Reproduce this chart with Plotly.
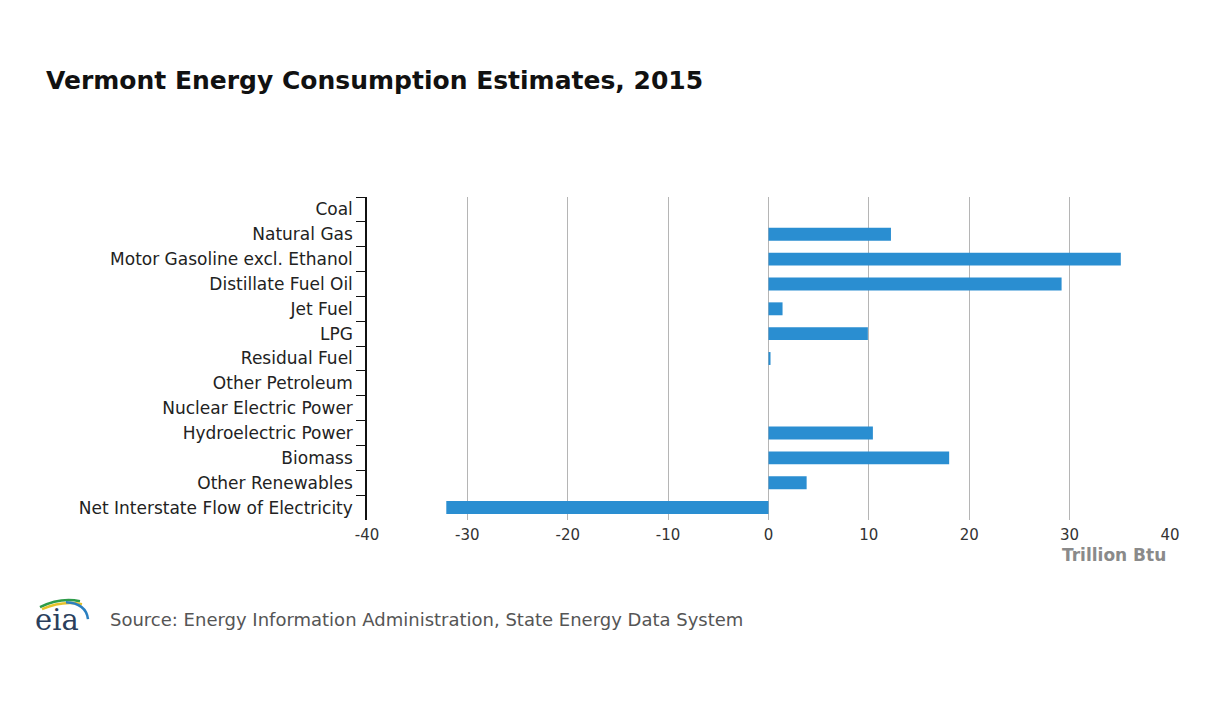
import plotly.graph_objects as go

categories = ["Coal", "Natural Gas", "Motor Gasoline excl. Ethanol", "Distillate Fuel Oil",
              "Jet Fuel", "LPG", "Residual Fuel", "Other Petroleum", "Nuclear Electric Power",
              "Hydroelectric Power", "Biomass", "Other Renewables", "Net Interstate Flow of Electricity"]
values = [0.0, 12.2, 35.1, 29.2, 1.4, 9.9, 0.2, 0.0, 0.0, 10.4, 18.0, 3.8, -32.1]
x_ticks = [-40, -30, -20, -10, 0, 10, 20, 30, 40]

W, H = 1220, 704
OFF = 8  # page body margin offset
# desired on-screen plot area edges
PL, PR, PT, PB = 367, 1171, 196.5, 520.5
L = PL - OFF
R = W - (PR - OFF)
T = PT - OFF
B = H - (PB - OFF)

def px(xs):
    return (xs - PL) / (PR - PL)

def py(ys):
    return (PB - ys) / (PB - PT)

fig = go.Figure(go.Bar(
    x=values, y=categories, orientation="h",
    marker=dict(color="#2a8ed1", line=dict(width=0)),
    hoverinfo="x+y",
))

fig.update_layout(
    width=W, height=H,
    margin=dict(l=L, r=R, t=T, b=B, autoexpand=False),
    paper_bgcolor="white", plot_bgcolor="white",
    bargap=0.48,
    showlegend=False,
    font=dict(family="DejaVu Sans, Arial, sans-serif", color="#222"),
)

fig.add_annotation(
    text="<b>Vermont Energy Consumption Estimates, 2015</b>",
    xref="paper", yref="paper", x=px(44), xanchor="left", y=py(80), yanchor="middle",
    showarrow=False, font=dict(size=25, color="#111"),
)

fig.update_xaxes(
    range=[-40, 40.1], tickvals=x_ticks, ticktext=[str(v) for v in x_ticks],
    showgrid=True, gridcolor="#b5b5b5", gridwidth=1,
    zeroline=True, zerolinecolor="#b5b5b5", zerolinewidth=1,
    showline=False, ticks="", ticklabelstandoff=4,
    tickfont=dict(size=15, color="#333"),
    fixedrange=True, automargin=False,
)
fig.update_yaxes(
    type="category", categoryorder="array", categoryarray=categories,
    autorange="reversed",
    showline=True, linecolor="#111", linewidth=1.5,
    ticks="outside", tickson="boundaries", ticklen=9, tickcolor="#111", tickwidth=1.3,
    showgrid=False, ticklabelstandoff=9,
    tickfont=dict(size=17, color="#222"),
    fixedrange=True, automargin=False,
)

# axis unit label
fig.add_annotation(
    text="<b>Trillion Btu</b>", xref="paper", yref="paper",
    x=px(1168), xanchor="right", y=py(556), yanchor="middle",
    showarrow=False, font=dict(size=17, color="#8a8a8a"),
)

# source line
fig.add_annotation(
    text="Source: Energy Information Administration, State Energy Data System",
    xref="paper", yref="paper",
    x=px(108), xanchor="left", y=py(620), yanchor="middle",
    showarrow=False, font=dict(size=18, color="#555"),
)

# eia logo (decorative)
fig.add_annotation(
    text="eia", xref="paper", yref="paper",
    x=px(33), xanchor="left", y=py(621), yanchor="middle",
    showarrow=False, font=dict(size=29, color="#2b3f5c", family="DejaVu Serif, Liberation Serif, serif"),
)
arcs = [
    ("#2e9c4a", 40, 608, 60, 598, 80, 602),
    ("#e6c22a", 42, 610, 62, 601, 82, 605),
    ("#2a7fc0", 66, 603, 86, 604, 88, 620),
]
for color, x0, y0, xc, yc, x1, y1 in arcs:
    fig.add_shape(
        type="path", xref="paper", yref="paper",
        path=f"M {px(x0)},{py(y0)} Q {px(xc)},{py(yc)} {px(x1)},{py(y1)}",
        line=dict(color=color, width=2.5),
    )

fig.write_html("out.html")
